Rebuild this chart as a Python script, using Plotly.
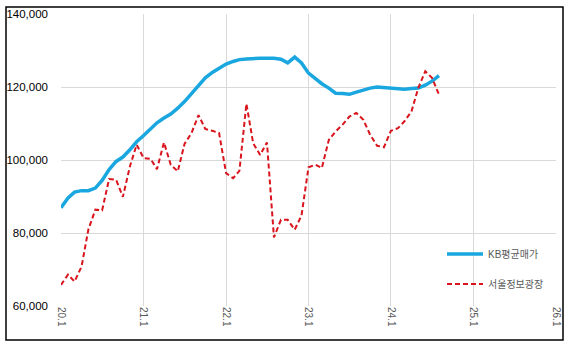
import pandas as pd
import plotly.graph_objects as go

# ---- data ----
months = pd.date_range("2020-01-01", periods=56, freq="MS")

kb_avg = [86900, 89600, 91200, 91600, 91600, 92300, 94400, 97400, 99600, 100800,
          102800, 105000, 106700, 108600, 110200, 111500, 112600, 114200, 116000, 118200,
          120500, 122500, 124000, 125200, 126300, 127000, 127500, 127700, 127900, 127900,
          127900, 127900, 127600, 126600, 128200, 126600, 123800, 122200, 120900, 119700,
          118300, 118200, 118000, 118600, 119200, 119700, 120000, 119900, 119700, 119600,
          119400, 119600, 119700, 120500, 121600, 123100]

seoul_info = [65800, 68600, 66700, 70800, 80900, 86400, 86200, 94800, 94600, 89900,
              98200, 104200, 100500, 100300, 97500, 104800, 98700, 96900, 104400, 107400,
              112300, 108500, 108000, 107400, 96400, 95000, 97000, 115400, 104600, 101400,
              104800, 78800, 83600, 83600, 80900, 84800, 98000, 98700, 97800, 105500,
              107800, 109700, 111900, 112900, 111000, 106900, 103900, 103500, 108000, 108700,
              110600, 113300, 119700, 124300, 122500, 117900]

series_names = ["KB평균매가", "서울정보광장"]
tick_dates = ["2020-01-01", "2021-01-01", "2022-01-01", "2023-01-01",
              "2024-01-01", "2025-01-01", "2026-01-01"]
tick_labels = ["20.1", "21.1", "22.1", "23.1", "24.1", "25.1", "26.1"]

FONT = "Liberation Sans, Noto Sans CJK KR, sans-serif"

fig = go.Figure()
fig.add_trace(go.Scatter(
    x=months, y=kb_avg, mode="lines", name=series_names[0],
    line=dict(color="#1aa7df", width=3.5), legend="legend"))
fig.add_trace(go.Scatter(
    x=months, y=seoul_info, mode="lines", name=series_names[1],
    line=dict(color="#d9141d", width=2, dash="5px,3px"), legend="legend2"))

W, H = 571, 347
ml, mr, mt, mb = 61, 15, 14, 41
pw, ph = W - ml - mr, H - mt - mb

def px_x(x):
    return (x - ml) / pw

def px_y(y):
    return (H - mb - y) / ph

fig.update_layout(
    width=W, height=H,
    margin=dict(l=ml, r=mr, t=mt, b=mb, autoexpand=False),
    paper_bgcolor="white", plot_bgcolor="white",
    font=dict(family=FONT, size=11, color="#000"),
    showlegend=True,
    legend=dict(x=px_x(442), y=px_y(254), xanchor="left", yanchor="middle",
                bgcolor="rgba(0,0,0,0)", font=dict(size=10, color="#595959"),
                itemwidth=36),
    legend2=dict(x=px_x(442), y=px_y(284), xanchor="left", yanchor="middle",
                 bgcolor="rgba(0,0,0,0)", font=dict(size=10, color="#595959"),
                 itemwidth=36),
    xaxis=dict(
        type="date", range=["2020-01-01", "2026-01-01"],
        tickmode="array", tickvals=tick_dates, ticktext=tick_labels,
        tickangle=90, tickfont=dict(size=10, color="#595959"),
        showgrid=True, gridcolor="#d9d9d9", gridwidth=1,
        showline=False, zeroline=False, ticks="", automargin=False,
    ),
    yaxis=dict(
        range=[60000, 140000], dtick=20000, tick0=60000,
        tickformat=",", tickfont=dict(size=11.5, color="#000"),
        showgrid=True, gridcolor="#d9d9d9", gridwidth=1,
        showline=False, zeroline=False, ticks="", ticklabelstandoff=12,
        automargin=False,
    ),
    shapes=[dict(type="rect", xref="paper", yref="paper",
                 x0=px_x(6), x1=px_x(563), y0=px_y(340), y1=px_y(7),
                 line=dict(color="#000", width=1.5), fillcolor="rgba(0,0,0,0)",
                 layer="above")],
)

fig.write_html("out.html")
